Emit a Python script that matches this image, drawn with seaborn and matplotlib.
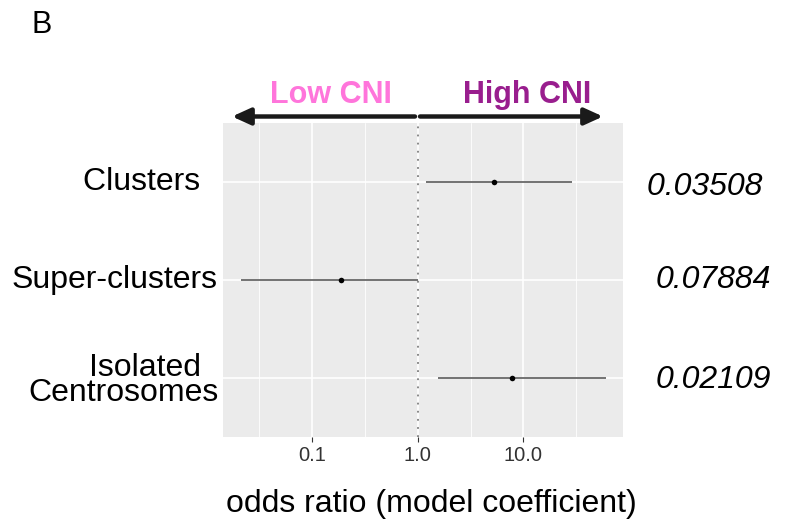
import numpy as np
import pandas as pd
import matplotlib
matplotlib.use("Agg")
import matplotlib.pyplot as plt
import seaborn as sns

# ---- data ----
categories = ["Clusters  ", "Super-clusters", "Isolated  \nCentrosomes"]
odds_ratio = [5.27, 0.188, 7.85]
ci_low = [1.19, 0.0213, 1.55]
ci_high = [28.6, 1.0, 60.1]
p_values = ["0.03508 ", "0.07884", "0.02109"]
x_ticks = [0.1, 1.0, 10.0]
x_tick_labels = ["0.1", "1.0", "10.0"]

df = pd.DataFrame({"cat": categories, "or": odds_ratio, "lo": ci_low, "hi": ci_high,
                   "pos": np.arange(len(categories))})

sns.set_theme(style="darkgrid")
plt.rcParams["font.family"] = ["Liberation Sans", "DejaVu Sans"]
plt.rcParams["text.color"] = "black"

W, H = 789, 526
fig = plt.figure(figsize=(W / 100, H / 100), dpi=100)
fig.patch.set_facecolor("white")

def fx(px):
    return px / W

def fy(py):
    return 1 - py / H

ax = fig.add_axes([fx(223), fy(437), fx(623) - fx(223), fy(123) - fy(437)])
ax.set_facecolor("#EBEBEB")
ax.set_xscale("log")
ax.set_xlim(10 ** -1.842, 10 ** 1.943)
ax.set_ylim(2.6, -0.6)

# grid
ax.grid(False)
for v in [10 ** -1.5, 10 ** -0.5, 10 ** 0.5, 10 ** 1.5]:
    ax.axvline(v, color="white", lw=0.6, zorder=0)
for v in x_ticks:
    ax.axvline(v, color="white", lw=1.2, zorder=0)
for p in df["pos"]:
    ax.axhline(p, color="white", lw=1.2, zorder=0)

ax.axvline(1.0, color="#7F7F7F", lw=1.3, ls=(0, (1, 3.5)), zorder=1)

# CI lines
ax.hlines(df["pos"], df["lo"], df["hi"], color="#4D4D4D", lw=1.1, zorder=2)
sns.scatterplot(data=df, x="or", y="pos", ax=ax, color="black", s=16,
                edgecolor="black", linewidth=0, zorder=3, legend=False)

for s in ax.spines.values():
    s.set_visible(False)
ax.set_xticks(x_ticks)
ax.set_xticklabels(x_tick_labels, fontsize=14.5, color="#333333")
ax.xaxis.set_minor_locator(matplotlib.ticker.NullLocator())
ax.tick_params(axis="x", which="major", length=3.5, width=0.8, color="#333333",
               pad=3, bottom=True)
ax.set_yticks([])
ax.set_xlabel("")
ax.set_ylabel("")

fig.text(fx(431), fy(512), "odds ratio (model coefficient)", ha="center", va="baseline",
         fontsize=23)

# category labels (left)
fig.text(fx(218), fy(190), categories[0], ha="right", va="baseline", fontsize=23)
fig.text(fx(218), fy(288), categories[1], ha="right", va="baseline", fontsize=23)
fig.text(fx(219), fy(401), categories[2], ha="right", va="baseline", fontsize=23,
         multialignment="right", linespacing=0.78)

# p-values (right)
fig.text(fx(771), fy(195), p_values[0], ha="right", va="baseline", fontsize=23, style="italic")
fig.text(fx(771), fy(288), p_values[1], ha="right", va="baseline", fontsize=23, style="italic")
fig.text(fx(771), fy(388), p_values[2], ha="right", va="baseline", fontsize=23, style="italic")

# arrows
arrow_kw = dict(arrowstyle="-|>,head_length=1.1,head_width=0.5", color="#1A1A1A", lw=3.2,
                shrinkA=0, shrinkB=0, mutation_scale=10)
fig.add_artist(matplotlib.patches.FancyArrowPatch((fx(415), fy(116.5)), (fx(232), fy(116.5)),
                                                  transform=fig.transFigure, **arrow_kw))
fig.add_artist(matplotlib.patches.FancyArrowPatch((fx(420), fy(116.5)), (fx(603), fy(116.5)),
                                                  transform=fig.transFigure, **arrow_kw))
fig.text(fx(330.5), fy(103), "Low CNI", ha="center", va="baseline", fontsize=22,
         fontweight="bold", color="#FF75DB")
fig.text(fx(527), fy(103), "High CNI", ha="center", va="baseline", fontsize=22,
         fontweight="bold", color="#991E8E")

fig.text(fx(32), fy(33), "B", ha="left", va="baseline", fontsize=22)

fig.savefig("out.png", dpi=100)
